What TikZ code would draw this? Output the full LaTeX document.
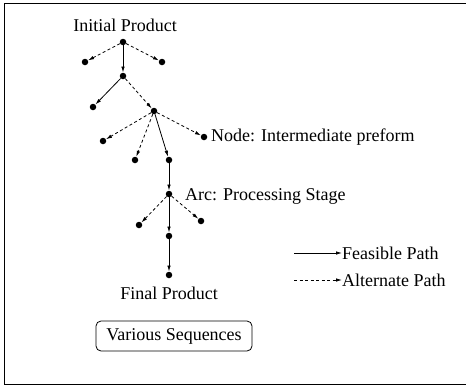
\documentclass[tikz,border=0pt]{standalone}
\usepackage{fontspec}
\setmainfont{Liberation Serif}
\usetikzlibrary{arrows.meta}

\tikzset{
  dot/.style={circle,fill=black,inner sep=0pt,minimum size=6.5pt},
  feas/.style={-{Latex[length=6pt,width=3.5pt]},line width=0.8pt},
  alt/.style={-{Latex[length=6pt,width=3.5pt]},line width=0.8pt,dash pattern=on 3pt off 2.5pt},
  lbl/.style={font=\fontsize{18}{21}\selectfont,inner sep=0pt}
}

\begin{document}
\begin{tikzpicture}[x=1pt,y=-1pt]
            \useasboundingbox (0,0) rectangle (466,386);
            \draw[line width=0.9pt] (4,3.5) rectangle (470,384.5);
            % tree
            \node[dot] (ini) at (123,42) {};
            \node[dot] (l1) at (85,62) {};
            \node[dot] (r1) at (162,62) {};
            \node[dot] (m1) at (123,76) {};
            \node[dot] (l2) at (93,107) {};
            \node[dot] (mid) at (154,111) {};
            \node[dot] (l3) at (103,141) {};
            \node[dot] (c3) at (135,160) {};
            \node[dot] (m3) at (169,160) {};
            \node[dot] (r3) at (204,137) {};
            \node[dot] (arc) at (169,194) {};
            \node[dot] (l4) at (139,225) {};
            \node[dot] (r4) at (201,221) {};
            \node[dot] (m4) at (169,236) {};
            \node[dot] (fin) at (169,275) {};
            \draw[alt] (ini)--(l1);
            \draw[alt] (ini)--(r1);
            \draw[feas] (ini)--(m1);
            \draw[feas] (m1)--(l2);
            \draw[alt] (m1)--(mid);
            \draw[alt] (mid)--(l3);
            \draw[alt] (mid)--(c3);
            \draw[feas] (mid)--(m3);
            \draw[alt] (mid)--(r3);
            \draw[feas] (m3)--(arc);
            \draw[alt] (arc)--(l4);
            \draw[alt] (arc)--(r4);
            \draw[feas] (arc)--(m4);
            \draw[feas] (m4)--(fin);
            % labels
            \node[lbl] (tini) at (125,25) {Initial Product};
            \node[lbl,anchor=west] (tnode) at (211,137) {Node: Intermediate preform};
            \node[lbl,anchor=west] (tarc) at (185,196) {Arc: Processing Stage};
            \node[lbl] (tfin) at (169,293) {Final Product};
            % legend
            \coordinate (fs) at (294,253);
            \node[lbl,anchor=west] (tfeas) at (342,253) {Feasible Path};
            \draw[feas] (fs)--(tfeas.west);
            \coordinate (as) at (294,280);
            \node[lbl,anchor=west] (talt) at (342,280) {Alternate Path};
            \draw[alt] (as)--(talt.west);
            \node[lbl,draw,line width=0.8pt,rounded corners=5pt,minimum width=156pt,minimum height=30pt] (seq) at (174,336) {Various Sequences};
        \end{tikzpicture}
\end{document}
